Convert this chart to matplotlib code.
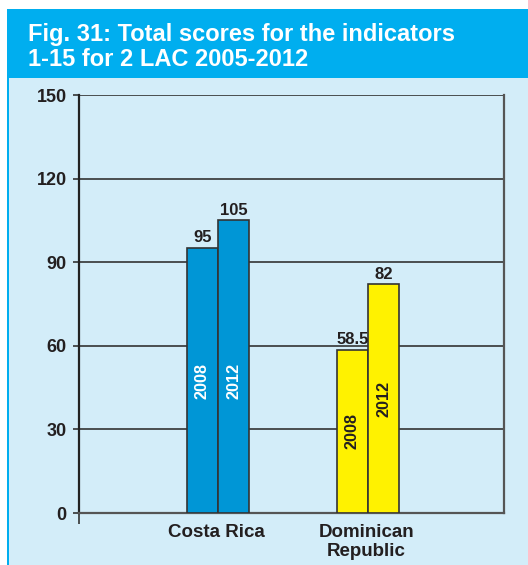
import matplotlib
matplotlib.use("Agg")
import matplotlib.pyplot as plt
from matplotlib.patches import Rectangle
import numpy as np

categories = ["Costa Rica", "Dominican\nRepublic"]
years = ["2008", "2012"]
values_2008 = [95, 58.5]
values_2012 = [105, 82]
value_labels_2008 = ["95", "58.5"]
value_labels_2012 = ["105", "82"]
inner_label_y_2008 = [47.5, 29.25]
inner_label_y_2012 = [47.5, 41]
bar_colors = ["#0096d6", "#fff200"]
inner_text_colors = ["white", "#231f20"]
yticks = [0, 30, 60, 90, 120, 150]

plt.rcParams['font.family'] = ['Liberation Sans', 'DejaVu Sans']
plt.rcParams['font.weight'] = 'bold'

W, H = 528, 565
fig = plt.figure(figsize=(W / 100, H / 100), dpi=100)
fig.patch.set_facecolor("white")

def fx(px):
    return px / W

def fy(py):
    return 1 - py / H

bg = "#d3edf9"
banner = "#00aeef"
txt = "#231f20"
fig.patches.append(Rectangle((fx(9), 0), 1 - fx(9), fy(78), transform=fig.transFigure,
                             facecolor=bg, edgecolor="none", zorder=-5))
fig.patches.append(Rectangle((fx(7), fy(78)), 1 - fx(7), fy(9) - fy(78), transform=fig.transFigure,
                             facecolor=banner, edgecolor="none", zorder=-5))
fig.patches.append(Rectangle((fx(7), 0), fx(2), fy(9), transform=fig.transFigure,
                             facecolor=banner, edgecolor="none", zorder=-5))

fig.text(fx(28), fy(23), "Fig. 31: Total scores for the indicators\n1-15 for 2 LAC 2005-2012",
         color="white", fontsize=17, fontweight="bold", va="top", ha="left",
         linespacing=1.12)

ax = fig.add_axes([fx(79), fy(513), fx(504) - fx(79), fy(95) - fy(513)])
ax.set_zorder(2)
ax.set_facecolor("none")

x = np.arange(len(categories))
bw = 0.207
for i in range(len(categories)):
    for j, (vals, labs, ly) in enumerate([(values_2008, value_labels_2008, inner_label_y_2008),
                                          (values_2012, value_labels_2012, inner_label_y_2012)]):
        xc = x[i] + (j - 0.5) * bw
        ax.bar(xc, vals[i], width=bw, color=bar_colors[i], edgecolor="#333333",
               linewidth=1.2, zorder=3)
        ax.annotate(labs[i], (xc, vals[i]), xytext=(0, 2), textcoords="offset points",
                    ha="center", va="bottom", fontsize=12, fontweight="bold",
                    color=txt, zorder=4)
        ax.text(xc, ly[i], years[j], rotation=90, ha="center", va="center",
                fontsize=11.7, fontweight="bold", color=inner_text_colors[i], zorder=4)

ax.set_xlim(-0.927, 1.907)
ax.set_ylim(0, 150)
ax.set_yticks(yticks)
ax.set_yticklabels([str(v) for v in yticks], fontsize=13, fontweight="bold", color=txt)
ax.yaxis.grid(True, color="#333333", linewidth=1.2, zorder=1)
ax.set_axisbelow(True)
ax.tick_params(axis="y", length=4, width=1.2, color="#333333", pad=5)

ax.set_xticks(x - 0.01)
ax.set_xticklabels(categories, fontsize=13.5, fontweight="bold", color=txt,
                   linespacing=1.12)
ax.tick_params(axis="x", length=0, pad=8)
ax.set_xticks([-0.927], minor=True)
ax.tick_params(axis="x", which="minor", length=8, width=1.2, color="#333333")

ax.spines["left"].set_color("#222222")
ax.spines["left"].set_linewidth(1.6)
ax.spines["bottom"].set_color("#555555")
ax.spines["bottom"].set_linewidth(1.6)
ax.spines["right"].set_color("#555555")
ax.spines["right"].set_linewidth(1.6)
ax.spines["top"].set_visible(False)

fig.savefig("out.png", dpi=100, facecolor=fig.get_facecolor())
